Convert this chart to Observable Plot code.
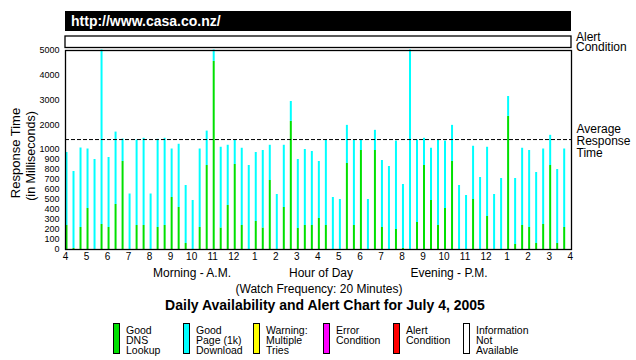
<!DOCTYPE html>
<html>
<head>
<meta charset="utf-8">
<script src="https://cdn.jsdelivr.net/npm/d3@7"></script>
<script src="https://cdn.jsdelivr.net/npm/@observablehq/plot@0.6"></script>
<style>
  html, body { margin: 0; padding: 0; background: #fff; }
  #chart { width: 636px; height: 360px; }
  svg { display: block; }
</style>
</head>
<body>
<div id="chart"></div>
<script>
// ---- data ----
const siteUrl = "http://www.casa.co.nz/";
const chartTitle = "Daily Availability and Alert Chart for July 4, 2005";
const intervalMinutes = 20;
// total response time (ms) per 20-minute check, starting 4:00 A.M.
const totalMs = [
  970, 780, 1060, 1020, 900, 5000, 920, 1700, 1420, 555, 1380, 1450,
  555, 1410, 1450, 1020, 1210, 640, 490, 1020, 1740, 5000, 1090, 1170,
  1380, 1050, 840, 970, 990, 1170, 550, 1170, 2930, 900, 1000, 980,
  880, 1380, 520, 500, 1970, 1380, 1380, 500, 1770, 890, 830, 1340,
  650, 5000, 1380, 1450, 1050, 1380, 1340, 1970, 640, 540, 1130, 720,
  1090, 550, 710, 3130, 710, 1050, 990, 770, 1020, 1570, 800, 1020
];
// DNS lookup portion (ms)
const dnsMs = [
  240, 10, 220, 410, 0, 250, 220, 450, 880, 0, 240, 240,
  0, 220, 240, 520, 420, 60, 0, 220, 840, 4540, 215, 440,
  850, 240, 0, 280, 215, 690, 0, 420, 2130, 210, 240, 240,
  310, 240, 0, 0, 860, 240, 990, 0, 990, 220, 0, 200,
  10, 0, 270, 840, 490, 240, 410, 880, 0, 0, 500, 0,
  330, 0, 0, 2330, 50, 240, 220, 60, 250, 840, 60, 220
];
const averageMs = 1400;
const yTicks = [0, 100, 200, 300, 400, 500, 600, 700, 800, 900, 1000, 2000, 3000, 4000, 5000];
const hourLabels = [4, 5, 6, 7, 8, 9, 10, 11, 12, 1, 2, 3, 4, 5, 6, 7, 8, 9, 10, 11, 12, 1, 2, 3, 4];
const legendLabels = [
  ["Good", "DNS", "Lookup"],
  ["Good", "Page (1k)", "Download"],
  ["Warning:", "Multiple", "Tries"],
  ["Error", "Condition"],
  ["Alert", "Condition"],
  ["Information", "Not", "Available"]
];
const legendColors = ["#00e000", "#00ffff", "#ffff00", "#ff00ff", "#ff0000", "#ffffff"];

// ---- chart ----
const GREEN = legendColors[0], CYAN = legendColors[1];
const FONT = "'Liberation Sans', Arial, Helvetica, sans-serif";
const rows = totalMs.map((total, i) => ({t: i * intervalMinutes, total, dns: dnsMs[i]}));
const hourTicks = hourLabels.map((_, i) => i * 60);

const svg = Plot.plot({
  width: 636,
  height: 360,
  marginLeft: 65,
  marginRight: 65,
  marginTop: 50,
  marginBottom: 111,
  style: {fontFamily: FONT, background: "white", color: "black", overflow: "visible"},
  x: {type: "linear", domain: [0, 1440], range: [65, 569.7], axis: null},
  y: {type: "linear", domain: [0, 1000, 5000], range: [249, 149, 49.5], axis: null},
  marks: [
    Plot.ruleX(rows, {x: "t", y1: 0, y2: "dns", stroke: GREEN, strokeWidth: 2, dx: 1}),
    Plot.ruleX(rows, {x: "t", y1: "dns", y2: "total", stroke: CYAN, strokeWidth: 2, dx: 1}),
    Plot.ruleY([averageMs], {stroke: "black", strokeDasharray: "4,2"}),
    Plot.frame({stroke: "black", strokeWidth: 1.3}),
    Plot.axisY(yTicks, {anchor: "left", tickSize: 0, tickPadding: 6, fontSize: 9, label: null,
      tickFormat: d => String(d)}),
    Plot.axisX(hourTicks, {anchor: "bottom", tickSize: 0, tickPadding: 3, fontSize: 10, label: null,
      tickFormat: d => String(hourLabels[Math.round(d / 60)])}),
    Plot.text([averageMs], {y: d => d, frameAnchor: "right", dx: 5, dy: 1.5, textAnchor: "start",
      lineAnchor: "middle", lineHeight: 1, fontSize: 12, text: () => "Average\nResponse\nTime"})
  ]
});

const s = d3.select(svg);
const addText = (str, x, y, opts = {}) => s.append("text")
  .attr("x", x).attr("y", y)
  .attr("text-anchor", opts.anchor || "start")
  .attr("font-size", opts.size || 12)
  .attr("font-weight", opts.weight || "normal")
  .attr("fill", opts.fill || "black")
  .attr("font-family", FONT)
  .attr("transform", opts.transform || null)
  .text(str);

// header bar
s.append("rect").attr("x", 65).attr("y", 11).attr("width", 506).attr("height", 20).attr("fill", "black");
addText(siteUrl, 71, 26, {weight: "bold", size: 14, fill: "white"});
// alert condition strip
s.append("rect").attr("x", 65).attr("y", 36).attr("width", 506).attr("height", 11.5)
  .attr("fill", "none").attr("stroke", "black").attr("stroke-width", 1.3);
addText("Alert", 576, 41);
addText("Condition", 576, 51);
// y axis title
addText("Response Time", 0, 0, {anchor: "middle", size: 13, transform: "translate(20,153) rotate(-90)"});
addText("(in Milliseconds)", 0, 0, {anchor: "middle", size: 12.5, transform: "translate(35,156) rotate(-90)"});
// x axis titles
[["Morning - A.M.", 192], ["Hour of Day", 321], ["Evening - P.M.", 449]].forEach(([t, x]) => {
  addText(t, x, 277, {anchor: "middle"});
});
addText("(Watch Frequency: 20 Minutes)", 319, 293, {anchor: "middle"});
addText(chartTitle, 325, 310, {anchor: "middle", weight: "bold", size: 14});
// legend
legendLabels.forEach((lines, i) => {
  const x0 = 113 + i * 70;
  s.append("rect").attr("x", x0 + 0.5).attr("y", 323.5).attr("width", 6).attr("height", 30)
    .attr("fill", legendColors[i]).attr("stroke", "black").attr("stroke-width", 1);
  lines.forEach((ln, j) => addText(ln, x0 + 13, 333.5 + j * 10, {size: 10.5}));
});

document.getElementById("chart").appendChild(svg);
</script>
</body>
</html>
